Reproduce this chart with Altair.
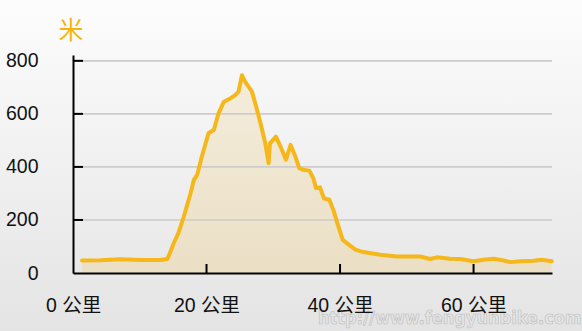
import altair as alt
import pandas as pd

# distance (km) and elevation (m)
km = [1.35, 4.1, 7.1, 10.1, 13.1, 14.1, 14.3, 15.1, 15.8, 16.6, 17.6, 18.1, 18.6, 19.3,
      20.3, 21.1, 21.8, 22.6, 23.6, 24.3, 24.8, 25.3, 25.8, 26.8, 27.3, 28.1, 28.8,
      29.3, 29.5, 30.4, 31.3, 31.9, 32.6, 33.3, 33.9, 34.5, 35.4, 36.0, 36.4, 37.0,
      37.6, 38.4, 39.0, 39.6, 40.4, 41.3, 42.3, 43.5, 46.0, 48.5, 52.0, 53.5, 54.5,
      56.5, 58.0, 60.0, 61.5, 63.0, 64.5, 65.5, 67.0, 69.0, 70.2, 71.7]
elev = [47, 48, 52, 49, 49, 53, 62, 113, 151, 213, 300, 351, 370, 439,
        527, 540, 602, 646, 659, 671, 684, 746, 721, 684, 640, 564, 489,
        414, 489, 514, 464, 427, 483, 439, 395, 389, 386, 357, 320, 323,
        281, 276, 238, 188, 125, 107, 88, 79, 69, 62, 62, 53, 59,
        54, 53, 44, 50, 54, 47, 41, 44, 46, 50, 44]

y_ticks = [0, 200, 400, 600, 800]
y_grid = [200, 400, 600, 800]
x_ticks = [0, 20, 40, 60]
x_inner_ticks = [20, 40, 60]
y_unit = ["米"]
x_unit = "公里"
watermark = ["http://www.fengyunbike.com"]

W, H = 479, 218
LATIN = "Liberation Sans, Noto Sans CJK SC, sans-serif"
CJK = "Noto Sans CJK SC, sans-serif"

df = pd.DataFrame({"km": km, "m": elev})
xs = alt.Scale(domain=[0, 71.75], nice=False, zero=False)
ys = alt.Scale(domain=[0, 822], nice=False)

xaxis = alt.Axis(values=x_ticks, ticks=False, grid=False, domain=True,
                 domainColor="#000000", domainWidth=2, zindex=2,
                 labelExpr="datum.value + ' " + x_unit + "'",
                 labelFlush=False, labelOverlap=False,
                 labelFont=LATIN, labelFontSize=19.5, labelColor="#111111",
                 labelPadding=23, title=None)
yaxis = alt.Axis(values=y_ticks, ticks=False, grid=False, domain=True,
                 domainColor="#000000", domainWidth=2, zindex=2,
                 labelFlush=False, labelOverlap=False,
                 labelFont=LATIN, labelFontSize=19.5, labelColor="#111111",
                 labelPadding=35, title=None)

bg = alt.Chart(pd.DataFrame({"a": [0]})).mark_rect(
    fill=alt.LinearGradient(
        gradient="linear", x1=0, x2=0, y1=0, y2=1,
        stops=[alt.GradientStop(color="#fdfdfd", offset=0),
               alt.GradientStop(color="#e3e3e3", offset=1)]),
    stroke=None,
).encode(x=alt.value(-80), x2=alt.value(W + 40), y=alt.value(-60), y2=alt.value(H + 70))

area = alt.Chart(df).mark_area(
    fill=alt.LinearGradient(
        gradient="linear", x1=0, x2=0, y1=0, y2=1,
        stops=[alt.GradientStop(color="#f4ecda", offset=0),
               alt.GradientStop(color="#ebdfc3", offset=1)]),
    opacity=0.95,
).encode(
    x=alt.X("km:Q", scale=xs, axis=xaxis),
    y=alt.Y("m:Q", scale=ys, axis=yaxis),
)

grid = alt.Chart(pd.DataFrame({"v": y_grid})).mark_rule(
    color="#cdcdcd", strokeWidth=1.6
).encode(y=alt.Y("v:Q", scale=ys, axis=yaxis), x=alt.value(0), x2=alt.value(W))

line = alt.Chart(df).mark_line(
    color="#f5b71a", strokeWidth=4, strokeJoin="round", strokeCap="round"
).encode(
    x=alt.X("km:Q", scale=xs, axis=xaxis),
    y=alt.Y("m:Q", scale=ys, axis=yaxis),
)

yt = alt.Chart(pd.DataFrame({"v": y_grid})).mark_rule(
    color="#000000", strokeWidth=2
).encode(y=alt.Y("v:Q", scale=ys, axis=yaxis), x=alt.value(0), x2=alt.value(10))

xt = alt.Chart(pd.DataFrame({"v": x_inner_ticks})).mark_rule(
    color="#000000", strokeWidth=2
).encode(x=alt.X("v:Q", scale=xs, axis=xaxis), y=alt.value(H), y2=alt.value(H - 9))

unit = alt.Chart(pd.DataFrame({"t": y_unit})).mark_text(
    font=CJK, fontSize=25, color="#f5b50f", align="center", baseline="middle"
).encode(text="t:N", x=alt.value(-2), y=alt.value(-24))

wm = alt.Chart(pd.DataFrame({"t": watermark})).mark_text(
    font="DejaVu Sans Condensed, sans-serif", fontWeight="bold", fontSize=18,
    fill="#e4e4e4", stroke="#bcbcbc", strokeWidth=0.6, opacity=0.9,
    align="left", baseline="middle",
).encode(text="t:N", x=alt.value(245), y=alt.value(264))

chart = alt.layer(bg, area, grid, line, yt, xt, unit, wm).properties(
    width=W, height=H,
    autosize=alt.AutoSizeParams(type="none"),
    padding={"left": 73, "top": 55, "right": 30, "bottom": 58},
).configure_view(stroke=None).configure(background="#eeeeee")

chart.save("out.html", embed_options={"renderer": "svg", "actions": False})
